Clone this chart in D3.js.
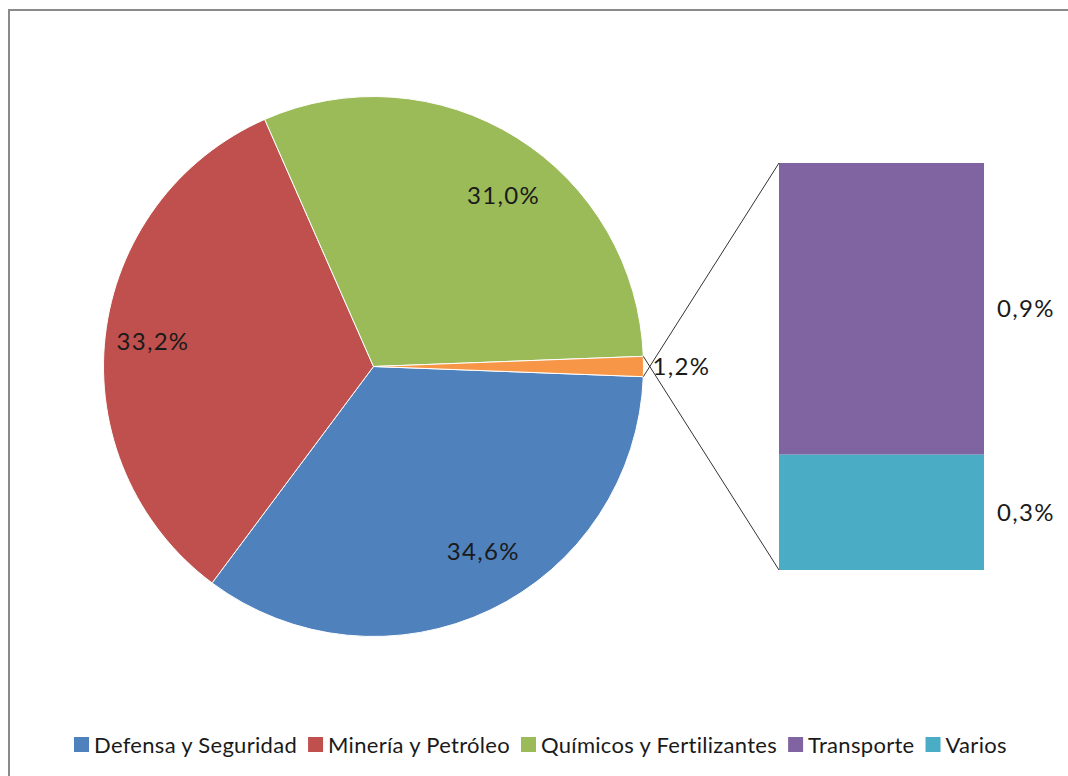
<!DOCTYPE html>
<html>
<head>
<meta charset="utf-8">
<script src="https://cdn.jsdelivr.net/npm/d3@7"></script>
<style>
  body { margin: 0; background: #fff; }
  svg { display: block; }
  text { font-family: Lato, "Open Sans", sans-serif; fill: #1a1a1a; }
</style>
</head>
<body>
<svg width="1068" height="776"></svg>
<script>
  // main pie
  const pieCategories = ['Defensa y Seguridad', 'Minería y Petróleo', 'Químicos y Fertilizantes', 'Otros'];
  const pieValues = [34.6, 33.2, 31.0, 1.2];
  const pieLabels = ['34,6%', '33,2%', '31,0%', '1,2%'];

  // bar that breaks down "Otros"
  const barCategories = ['Transporte', 'Varios'];
  const barValues = [0.86, 0.34];
  const barLabels = ['0,9%', '0,3%'];

  const legendCategories = ['Defensa y Seguridad', 'Minería y Petróleo', 'Químicos y Fertilizantes', 'Transporte', 'Varios'];

  const colors = {
    'Defensa y Seguridad': '#4f81bd',
    'Minería y Petróleo': '#c0504d',
    'Químicos y Fertilizantes': '#9bbb59',
    'Otros': '#f79646',
    'Transporte': '#8064a2',
    'Varios': '#4bacc6'
  };

  const svg = d3.select('svg');

  // chart frame
  svg.append('rect')
    .attr('x', 9).attr('y', 10)
    .attr('width', 1100).attr('height', 800)
    .attr('fill', 'none')
    .attr('stroke', '#8a8a8a')
    .attr('stroke-width', 2);

  const cx = 373.5, cy = 366.5, radius = 270;

  // "Otros" slice is centred on the right (3 o'clock)
  const total = d3.sum(pieValues);
  const otherHalf = Math.PI * pieValues[3] / total;
  const start = Math.PI / 2 + otherHalf;

  const pie = d3.pie().sort(null)
    .startAngle(start)
    .endAngle(start + 2 * Math.PI);

  const arcs = pie(pieValues);
  const arc = d3.arc().innerRadius(0).outerRadius(radius);

  const pieG = svg.append('g').attr('transform', `translate(${cx},${cy})`);

  pieG.selectAll('path')
    .data(arcs)
    .enter().append('path')
    .attr('d', arc)
    .attr('fill', (d, i) => colors[pieCategories[i]])
    .attr('stroke', '#fff')
    .attr('stroke-width', 1);

  // small angle nudges for the inside labels (excel "best fit")
  const labelNudge = [-0.09, 0, 0.09];
  const labelR = [215, 222, 215];

  pieG.selectAll('.inLabel')
    .data(arcs.slice(0, 3))
    .enter().append('text')
    .attr('class', 'inLabel')
    .attr('transform', (d, i) => {
      const a = (d.startAngle + d.endAngle) / 2 + labelNudge[i];
      return `translate(${labelR[i] * Math.sin(a)},${-labelR[i] * Math.cos(a)})`;
    })
    .attr('text-anchor', 'middle')
    .attr('dy', '0.36em')
    .attr('font-size', 24)
    .attr('letter-spacing', 1.3)
    .text((d, i) => pieLabels[i]);

  // label for the small slice, outside on the right
  const other = arcs[3];
  const otherMid = (other.startAngle + other.endAngle) / 2;
  svg.append('text')
    .attr('x', cx + (radius + 9) * Math.sin(otherMid))
    .attr('y', cy - (radius) * Math.cos(otherMid))
    .attr('dy', '0.36em')
    .attr('font-size', 24)
    .attr('letter-spacing', 1.3)
    .text(pieLabels[3]);

  // stacked bar
  const barX = 779, barW = 205;
  const y = d3.scaleLinear()
    .domain([0, d3.sum(barValues)])
    .range([163, 570]);

  let acc = 0;
  const segs = barValues.map((v, i) => {
    const s = { cat: barCategories[i], label: barLabels[i], y0: acc, y1: acc + v };
    acc += v;
    return s;
  });

  svg.selectAll('.seg')
    .data(segs)
    .enter().append('rect')
    .attr('class', 'seg')
    .attr('x', barX)
    .attr('y', d => y(d.y0))
    .attr('width', barW)
    .attr('height', d => y(d.y1) - y(d.y0))
    .attr('fill', d => colors[d.cat]);

  svg.selectAll('.segLabel')
    .data(segs)
    .enter().append('text')
    .attr('class', 'segLabel')
    .attr('x', barX + barW + 13)
    .attr('y', d => (y(d.y0) + y(d.y1)) / 2)
    .attr('dy', '0.36em')
    .attr('font-size', 24)
    .attr('letter-spacing', 1.3)
    .text(d => d.label);

  // connector lines from slice edges to the bar corners
  const p1 = [cx + radius * Math.sin(other.endAngle), cy - radius * Math.cos(other.endAngle)];
  const p2 = [cx + radius * Math.sin(other.startAngle), cy - radius * Math.cos(other.startAngle)];
  svg.append('line')
    .attr('x1', p1[0]).attr('y1', p1[1])
    .attr('x2', barX).attr('y2', y.range()[0])
    .attr('stroke', '#333').attr('stroke-width', 1);
  svg.append('line')
    .attr('x1', p2[0]).attr('y1', p2[1])
    .attr('x2', barX).attr('y2', y.range()[1])
    .attr('stroke', '#333').attr('stroke-width', 1);

  // legend
  const legendG = svg.append('g').attr('transform', 'translate(74,745)');
  let lx = 0;
  legendCategories.forEach(c => {
    const item = legendG.append('g').attr('transform', `translate(${lx},0)`);
    item.append('rect')
      .attr('x', 0).attr('y', -8)
      .attr('width', 15).attr('height', 15)
      .attr('fill', colors[c]);
    const t = item.append('text')
      .attr('x', 20)
      .attr('dy', '0.36em')
      .attr('font-size', 22)
      .attr('letter-spacing', 0.3)
      .text(c);
    lx += 20 + t.node().getComputedTextLength() + 11;
  });
</script>
</body>
</html>
